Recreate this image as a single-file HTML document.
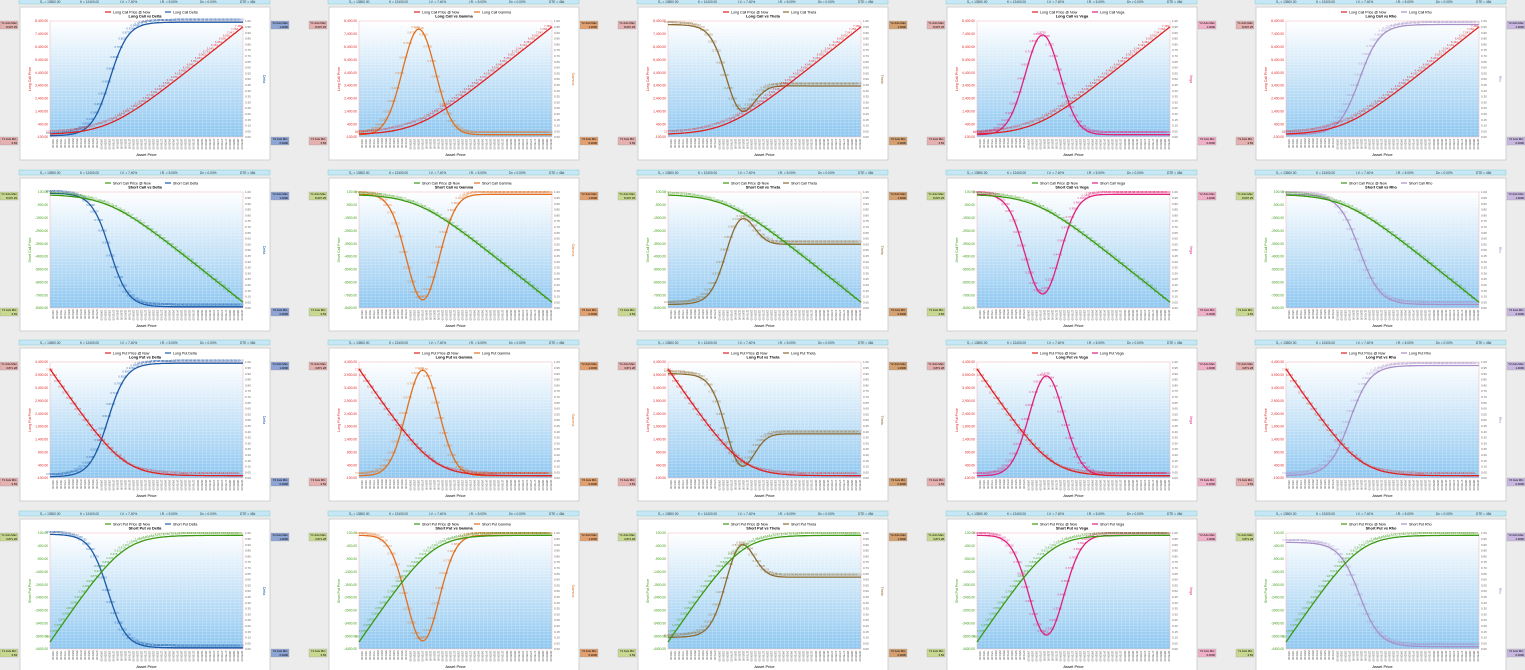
<!DOCTYPE html>
<html><head><meta charset="utf-8"><style>
html,body{margin:0;padding:0;background:#ececec;width:1525px;height:670px;overflow:hidden}
svg{display:block;font-family:"Liberation Sans",sans-serif}
</style></head><body>
<svg id="s" width="1525" height="670" viewBox="0 0 1525 670" xmlns="http://www.w3.org/2000/svg">
<defs><linearGradient id="pg" x1="0" y1="0" x2="0" y2="1"><stop offset="0" stop-color="#ffffff"/><stop offset="1" stop-color="#8cc6f0"/></linearGradient></defs>
</svg>
<script>
var S=document.getElementById('s'),out=[];
function E(v){out.push(v)}
function N(z){return 1/(1+Math.exp(-1.7*z))}
function bell(t,c,w){return Math.exp(-0.5*Math.pow((t-c)/w,2))}
function gc(t){var w=0.1,c=0.3;return w*Math.log(1+Math.exp((t-c)/w))}
function hp(t){var w=0.08,c=0.38;return w*Math.log(1+Math.exp((c-t)/w))}
var price=[
 function(t){return 0.02+0.93*gc(t)/gc(1)},
 function(t){return 0.98-0.93*gc(t)/gc(1)},
 function(t){return 0.02+0.92*hp(t)/hp(0)},
 function(t){return 0.98-0.92*hp(t)/hp(0)}];
var gk=[
 [function(t){return 0.01+0.98*N((t-0.31)/0.08)},function(t){return 0.02+0.91*bell(t,0.31,0.085)},function(t){return 0.97-0.53*N((t-0.3)/0.08)-0.3*bell(t,0.37,0.07)},function(t){return 0.02+0.86*bell(t,0.34,0.09)},function(t){return 0.02+0.95*N((t-0.38)/0.09)}],
 [function(t){return 0.99-0.98*N((t-0.31)/0.08)},function(t){return 0.98-0.91*bell(t,0.33,0.085)},function(t){return 0.03+0.52*N((t-0.3)/0.08)+0.3*bell(t,0.37,0.07)},function(t){return 0.98-0.86*bell(t,0.34,0.09)},function(t){return 0.98-0.95*N((t-0.38)/0.09)}],
 [function(t){return 0.01+0.98*N((t-0.3)/0.08)},function(t){return 0.02+0.91*bell(t,0.33,0.085)},function(t){return 0.9-0.52*N((t-0.3)/0.08)-0.36*bell(t,0.37,0.07)},function(t){return 0.02+0.86*bell(t,0.36,0.09)},function(t){return 0.02+0.95*N((t-0.33)/0.09)}],
 [function(t){return 0.99-0.98*N((t-0.3)/0.08)},function(t){return 0.98-0.91*bell(t,0.33,0.085)},function(t){return 0.1+0.52*N((t-0.3)/0.08)+0.36*bell(t,0.37,0.07)},function(t){return 0.98-0.86*bell(t,0.36,0.09)},function(t){return 0.92-0.9*N((t-0.38)/0.09)}]];
var rowName=['Long Call','Short Call','Long Put','Short Put'];
var gName=['Delta','Gamma','Theta','Vega','Rho'];
var gCol=['#1d5aa8','#e07020','#8c6a30','#e0207a','#a890c8'];
var gBox=['#8ea4d4','#e0a070','#d4a070','#f0b0c8','#c8b8e0'];
var pCol=['#e02020','#3a9a10','#e02020','#3a9a10'];
var pBox=['#e4b0b0','#c8d890','#e4b0b0','#c8d890'];
var lMax=['8,007.25','8,007.25','3,871.28','3,871.28'];
var lTicks=[['8,400.00','7,400.00','6,400.00','5,400.00','4,400.00','3,400.00','2,400.00','1,400.00','400.00','-100.00'],
['100.00','-900.00','-1900.00','-2900.00','-3900.00','-4900.00','-5900.00','-6900.00','-7900.00','-8400.00'],
['4,400.00','3,900.00','3,400.00','2,900.00','2,400.00','1,900.00','1,400.00','900.00','400.00','-100.00'],
['100.00','-400.00','-900.00','-1400.00','-1900.00','-2400.00','-2900.00','-3400.00','-3900.00','-4400.00']];
for(var r=0;r<4;r++)for(var c=0;c<5;c++){
 var ox=c*309,oy=Math.round(r*170.67);
 var px=ox+50,py=oy+21,pw=193,ph=116;
 E('<rect x="'+(ox+19)+'" y="'+(oy-1)+'" width="251" height="5" fill="#c6e8f6" stroke="#8cc" stroke-width="0.5"/>');
 var pl=['S₀ = 13500.00','K = 12400.00','I.V. = 7.40%','I.R. = 5.00%','Dv = 0.00%','DTE = 45d'];
 for(var i=0;i<6;i++)E('<text x="'+(ox+40+i*40)+'" y="'+(oy+3)+'" font-size="3.2" fill="#333">'+pl[i]+'</text>');
 E('<rect x="'+(ox+20)+'" y="'+(oy+7)+'" width="250" height="153" fill="#fff" stroke="#c8c8c8" stroke-width="0.8"/>');
 E('<rect x="'+ox+'" y="'+(oy+21)+'" width="18" height="8" fill="'+pBox[r]+'" stroke="#999" stroke-width="0.3"/><text x="'+(ox+9)+'" y="'+(oy+24)+'" font-size="2.8" text-anchor="middle">Y1 Axis Max</text><text x="'+(ox+17)+'" y="'+(oy+28)+'" font-size="2.8" text-anchor="end">'+lMax[r]+'</text>');
 E('<rect x="'+ox+'" y="'+(oy+137)+'" width="18" height="8" fill="'+pBox[r]+'" stroke="#999" stroke-width="0.3"/><text x="'+(ox+9)+'" y="'+(oy+140)+'" font-size="2.8" text-anchor="middle">Y1 Axis Min</text><text x="'+(ox+17)+'" y="'+(oy+144)+'" font-size="2.8" text-anchor="end">3.53</text>');
 E('<rect x="'+(ox+271)+'" y="'+(oy+21)+'" width="18" height="8" fill="'+gBox[c]+'" stroke="#999" stroke-width="0.3"/><text x="'+(ox+280)+'" y="'+(oy+24)+'" font-size="2.8" text-anchor="middle">Y2 Axis Max</text><text x="'+(ox+288)+'" y="'+(oy+28)+'" font-size="2.8" text-anchor="end">1.0000</text>');
 E('<rect x="'+(ox+271)+'" y="'+(oy+137)+'" width="18" height="8" fill="'+gBox[c]+'" stroke="#999" stroke-width="0.3"/><text x="'+(ox+280)+'" y="'+(oy+140)+'" font-size="2.8" text-anchor="middle">Y2 Axis Min</text><text x="'+(ox+288)+'" y="'+(oy+144)+'" font-size="2.8" text-anchor="end">0.0000</text>');
 E('<rect x="'+px+'" y="'+py+'" width="'+pw+'" height="'+ph+'" fill="url(#pg)" stroke="#f0c0c0" stroke-width="0.6"/>');
 var g='';
 for(var i=1;i<48;i++){var x=px+pw*i/48;g+='M'+x.toFixed(1)+' '+py+'V'+(py+ph);}
 for(var i=1;i<40;i++){var y=py+ph*i/40;g+='M'+px+' '+y.toFixed(1)+'H'+(px+pw);}
 E('<path d="'+g+'" stroke="#ffffff" stroke-opacity="0.45" stroke-width="0.4" fill="none"/>');
 for(var i=0;i<10;i++)E('<text x="'+(px-2)+'" y="'+(py+ph*i/9+1.2).toFixed(1)+'" font-size="3.3" text-anchor="end" fill="'+pCol[r]+'">'+lTicks[r][i]+'</text>');
 for(var i=0;i<21;i++)E('<text x="'+(px+pw+2)+'" y="'+(py+ph*i/20+1.2).toFixed(1)+'" font-size="3" fill="#666">'+(1-i*0.05).toFixed(2)+'</text>');
 E('<text transform="translate('+(ox+31)+','+(py+ph/2)+') rotate(-90)" font-size="3.6" text-anchor="middle" fill="'+pCol[r]+'">'+rowName[r]+' Price</text>');
 E('<text transform="translate('+(ox+263)+','+(py+ph/2)+') rotate(90)" font-size="3.6" text-anchor="middle" fill="'+gCol[c]+'">'+gName[c]+'</text>');
 for(var i=0;i<48;i++){var x=px+2+pw*i/48;E('<text transform="translate('+x.toFixed(1)+','+(py+ph+1.5)+') rotate(90)" font-size="2.6" fill="#444">'+(7000+i*250)+'.00</text>');}
 E('<text x="'+(px+pw/2)+'" y="'+(oy+156)+'" font-size="4" text-anchor="middle">Asset Price</text>');
 E('<line x1="'+(ox+105)+'" y1="'+(oy+12)+'" x2="'+(ox+111)+'" y2="'+(oy+12)+'" stroke="'+pCol[r]+'" stroke-width="1.2"/><text x="'+(ox+113)+'" y="'+(oy+13.3)+'" font-size="3.6">'+rowName[r]+' Price @ Now</text>');
 E('<line x1="'+(ox+165)+'" y1="'+(oy+12)+'" x2="'+(ox+171)+'" y2="'+(oy+12)+'" stroke="'+gCol[c]+'" stroke-width="1.2"/><text x="'+(ox+173)+'" y="'+(oy+13.3)+'" font-size="3.6">'+rowName[r]+' '+gName[c]+'</text>');
 E('<text x="'+(ox+145)+'" y="'+(oy+17.5)+'" font-size="3.8" font-weight="bold" text-anchor="middle">'+rowName[r]+' vs '+gName[c]+'</text>');
 var fs=[price[r],gk[r][c]],cs=[pCol[r],gCol[c]];
 for(var k=1;k>=0;k--){var d='';
  for(var i=0;i<=120;i++){var t=i/120,v=fs[k](t);d+=(i?'L':'M')+(px+pw*t).toFixed(1)+' '+(py+ph*(1-v)).toFixed(1);}
  for(var i=0;i<48;i++){var t=(i+0.5)/48,v=fs[k](t);var val=k?(v).toFixed(4):Math.round(v*8000).toLocaleString('en-US');
   E('<text x="'+(px+pw*t-6).toFixed(1)+'" y="'+(py+ph*(1-v)-1.5).toFixed(1)+'" font-size="2.8" fill="'+cs[k]+'" fill-opacity="0.85">'+val+'</text>');}
  E('<path d="'+d+'" fill="none" stroke="'+cs[k]+'" stroke-width="1.3"/>');}
}
S.insertAdjacentHTML('beforeend',out.join(''));
</script>
</body></html>
